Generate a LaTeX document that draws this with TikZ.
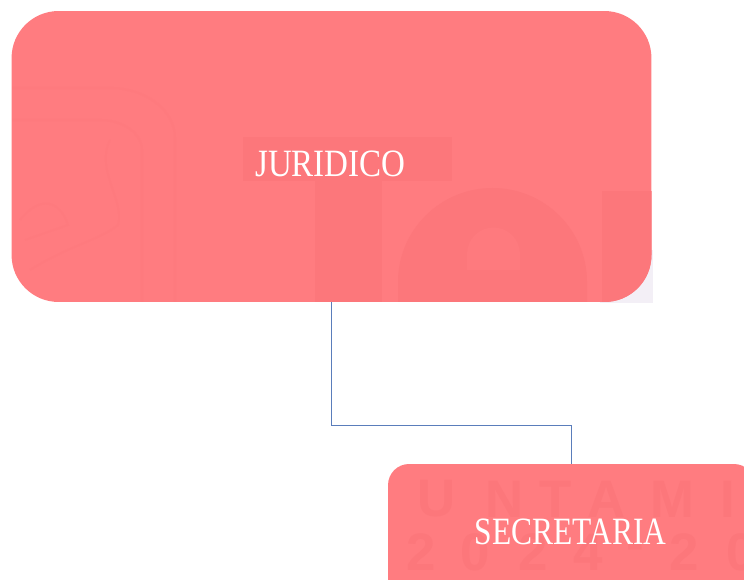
\documentclass[tikz,border=0pt]{standalone}
\usepackage{fontspec}
\setmainfont{Liberation Serif}
\newfontfamily\markfont{Liberation Sans}
\usetikzlibrary{positioning,calc}

\definecolor{boxred}{HTML}{FF7C80}
\definecolor{markred}{HTML}{FC777B}
\definecolor{lightred}{HTML}{FE7A7E}
\definecolor{linkblue}{HTML}{5A7DBB}
\definecolor{cornerpale}{HTML}{F3EFF6}

\tikzset{
  bigbox/.style = {fill = boxred, rounded corners = 0.94cm, minimum width = 12.8cm, minimum height = 5.82cm},
  smallbox/.style = {fill = boxred, rounded corners = 0.42cm, minimum width = 7.34cm, minimum height = 2.72cm},
  boxtext/.style = {text = white, font = \fontsize{22}{24}\selectfont, inner sep = 0pt},
  marktext/.style = {text = markred, font = \markfont\bfseries\fontsize{30}{30}\selectfont, inner sep = 0pt},
  link/.style = {draw = linkblue, line width = 0.55pt}
}

\begin{document}
\begin{tikzpicture}[x = 0.02cm, y = -0.02cm]
  \useasboundingbox (0,0) rectangle (744,580);
  \clip (0,0) rectangle (744,580);

  % Pale corner behind the big box
  \fill[cornerpale] (600,250) rectangle (653,303);

  % Draw the boxes
  \node[bigbox] (juridico) at (331.5,156.5) {};
  \node[smallbox] (secretaria) at (571.5,532) {};

  % Watermark in the big box
  \begin{scope}
    \clip[rounded corners = 0.94cm] (11.5,11) rectangle (651.5,302);
    \fill[markred] (243,137) rectangle (452,181);
    \fill[markred] (315,181) rectangle (382,302);
    \fill[markred] (398,302) -- (398,282) arc (180:360:94.5 and 94) -- (587,302) -- cycle;
    \fill[lightred] (467,270) -- (467,254) arc (180:360:26.5) -- (520,270) -- cycle;
    \fill[markred] (602,191) rectangle (652,302);
    \draw[lightred, line width = 1.2pt] (12,88) -- (110,88) arc (270:360:65 and 50) -- (175,302);
    \draw[lightred, line width = 1.2pt] (12,120) -- (100,120) arc (270:360:42 and 30) -- (142,302);
    \draw[lightred, line width = 1pt] (110,140) .. controls (95,170) and (125,200) .. (118,225) .. controls (100,240) and (70,245) .. (30,270);
    \draw[lightred, line width = 1pt] (20,220) .. controls (40,195) and (60,200) .. (68,225) -- (25,240);
  \end{scope}

  % Watermark in the small box
  \begin{scope}
    \clip[rounded corners = 0.42cm] (388,464) rectangle (755,600);
    \foreach \ch/\xpos in {U/437, N/505, T/556, A/607, M/672, I/728}
      \node[marktext] (mark\ch) at (\xpos,499) {\ch};
    \foreach \ch/\xpos [count = \i] in {2/421, 0/475, 2/533, 4/588, -/635, 2/684, 0/741}
      \node[marktext] (year\i) at (\xpos,552) {\ch};
  \end{scope}

  % Labels
  \node[boxtext] (juridicotext) at (330.5,164) {\scalebox{0.855}[1]{JURIDICO}};
  \node[boxtext] (secretariatext) at (570.5,532) {\scalebox{0.815}[1]{SECRETARIA}};

  % Connector
  \coordinate (bend) at (secretaria.north |- 0,425);
  \draw[link] (juridico.south) |- (bend) -- (secretaria.north);
\end{tikzpicture}
\end{document}
